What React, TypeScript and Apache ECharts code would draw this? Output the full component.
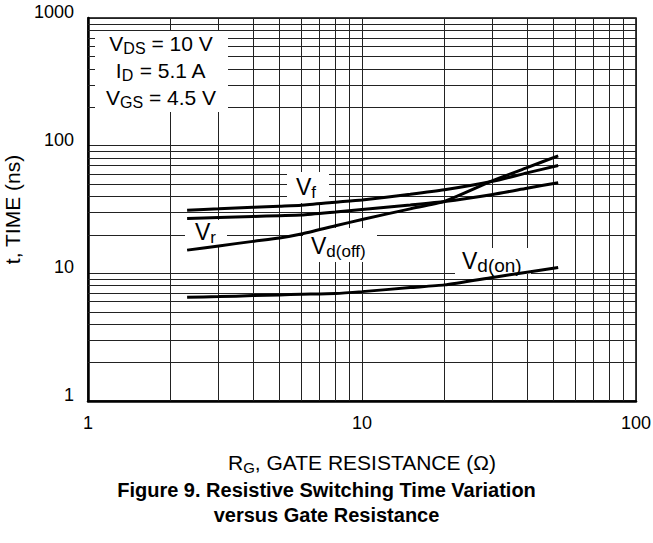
import React, { useEffect, useRef } from "react";
import * as echarts from "echarts";

// R_G (ohm) sample points
const rg = [2.3, 3, 4, 5, 6, 8, 10, 15, 20, 30, 40, 52];
// switching times (ns)
const tf = [31.2, 32.0, 32.9, 33.6, 34.2, 36.1, 37.6, 41.6, 45.1, 52.6, 61.2, 69.9];
const tr = [26.9, 27.4, 27.9, 28.3, 28.6, 30.2, 31.6, 34.3, 36.5, 41.5, 46.4, 51.3];
const tdoff = [15.2, 16.4, 17.8, 18.9, 20.3, 23.6, 26.4, 32.0, 36.6, 53.2, 67.3, 83.3];
const tdon = [6.49, 6.57, 6.69, 6.78, 6.85, 6.95, 7.19, 7.73, 8.12, 9.29, 10.2, 11.1];

// minor grid values
const minorX = [2, 3, 4, 5, 6, 7, 8, 9, 20, 30, 40, 50, 60, 70, 80, 90];
const minorY = [2, 3, 4, 5, 6, 7, 8, 9, 20, 30, 40, 50, 60, 70, 80, 90, 200, 300, 400, 500, 600, 700, 800, 900];

const X_MIN = 1;
const X_MAX = 100;
const Y_MIN = 1;
const Y_MAX = 1000;

const FONT = "'Liberation Sans', Arial, Helvetica, sans-serif";

export default function App() {
  const ref = useRef<HTMLDivElement>(null);

  useEffect(() => {
    document.body.style.margin = "0";
    if (!ref.current) return;
    const chart = echarts.init(ref.current, undefined, { renderer: "svg" });

    const gridData = [
      ...minorX.map((x) => ({ coords: [[x, Y_MIN], [x, Y_MAX]] })),
      ...minorY.map((y) => ({ coords: [[X_MIN, y], [X_MAX, y]] })),
    ];

    const mk = (d: number[]) => rg.map((x, i) => [x, d[i]]);

    const curveSeries = (name: string, d: number[]) => ({
      name,
      type: "line",
      data: mk(d),
      showSymbol: false,
      symbol: "none",
      smooth: 0.2,
      z: 6,
      lineStyle: { color: "#000", width: 3 },
      silent: true,
    });

    const subRich = (main: number, mainLH: number, sub: number, subLH: number) => ({
      m: { fontSize: main, fontFamily: FONT, color: "#000", lineHeight: mainLH },
      s: { fontSize: sub, fontFamily: FONT, color: "#000", lineHeight: subLH, verticalAlign: "bottom" },
    });

    const whiteRect = (x: number, y: number, w: number, h: number) => ({
      type: "rect",
      z: 3,
      silent: true,
      shape: { x, y, width: w, height: h },
      style: { fill: "#fff" },
    });

    const label = (x: number, y: number, main: string, sub: string, subSize = 17) => ({
      type: "text",
      z: 4,
      silent: true,
      x,
      y,
      style: {
        text: `{m|${main}}{s|${sub}}`,
        rich: subRich(23, 28, subSize, 16),
        align: "left",
        verticalAlign: "middle",
      },
    });

    const option: any = {
      animation: false,
      backgroundColor: "#fff",
      title: {
        text: "Figure 9. Resistive Switching Time Variation\nversus Gate Resistance",
        left: "center",
        top: 472,
        textStyle: {
          fontFamily: FONT,
          fontSize: 20,
          fontWeight: "bold",
          color: "#000",
          lineHeight: 25,
        },
      },
      grid: {
        left: 88,
        top: 18,
        right: 17,
        bottom: 142,
        containLabel: false,
        outerBoundsMode: "none",
        show: true,
        borderColor: "#000",
        borderWidth: 1.5,
        backgroundColor: "#fff",
      },
      xAxis: {
        type: "log",
        logBase: 10,
        min: X_MIN,
        max: X_MAX,
        axisLine: { show: true, lineStyle: { color: "#000", width: 2.5 } },
        axisTick: { show: false },
        splitLine: { show: true, lineStyle: { color: "#222", width: 1 } },
        axisLabel: {
          color: "#000",
          fontFamily: FONT,
          fontSize: 18,
          margin: 13,
          formatter: (v: number) => String(Math.round(v)),
        },
        name: "{m|R}{s|G}{m|, GATE RESISTANCE (Ω)}",
        nameLocation: "middle",
        nameGap: 48,
        nameTextStyle: {
          rich: subRich(21, 26, 15, 14),
        },
      },
      yAxis: {
        type: "log",
        logBase: 10,
        min: Y_MIN,
        max: Y_MAX,
        axisLine: { show: true, lineStyle: { color: "#000", width: 2.5 } },
        axisTick: { show: false },
        splitLine: { show: true, lineStyle: { color: "#222", width: 1 } },
        axisLabel: {
          color: "#000",
          fontFamily: FONT,
          fontSize: 18,
          margin: 14,
          verticalAlign: "bottom",
          lineHeight: 12,
          formatter: (v: number) => String(Math.round(v)),
        },
        name: "t, TIME (ns)",
        nameLocation: "middle",
        nameGap: 56,
        nameTextStyle: { fontFamily: FONT, fontSize: 21, color: "#000" },
      },
      series: [
        {
          name: "grid",
          type: "lines",
          coordinateSystem: "cartesian2d",
          polyline: false,
          silent: true,
          z: 1,
          lineStyle: { color: "#222", width: 1, opacity: 1 },
          data: gridData,
        },
        curveSeries("Vf", tf),
        curveSeries("Vr", tr),
        curveSeries("Vd(off)", tdoff),
        curveSeries("Vd(on)", tdon),
      ],
      graphic: [
        whiteRect(95, 31, 133, 81),
        {
          type: "text",
          z: 4,
          silent: true,
          x: 161,
          y: 70,
          style: {
            text: "{m|V}{s|DS}{m| = 10 V}\n{m|I}{s|D}{m| = 5.1 A}\n{m|V}{s|GS}{m| = 4.5 V}",
            rich: subRich(21, 27, 16, 17),
            align: "center",
            verticalAlign: "middle",
          },
        },
        whiteRect(287, 172, 42, 31),
        label(296, 187, "V", "f"),
        whiteRect(185, 220, 42, 27),
        label(195, 232, "V", "r"),
        whiteRect(303, 228, 74, 34),
        label(311, 246, "V", "d(off)"),
        whiteRect(455, 248, 76, 26),
        label(462, 261, "V", "d(on)", 19),
      ],
    };

    chart.setOption(option);
    return () => chart.dispose();
  }, []);

  return <div ref={ref} style={{ width: 653, height: 543 }} />;
}
